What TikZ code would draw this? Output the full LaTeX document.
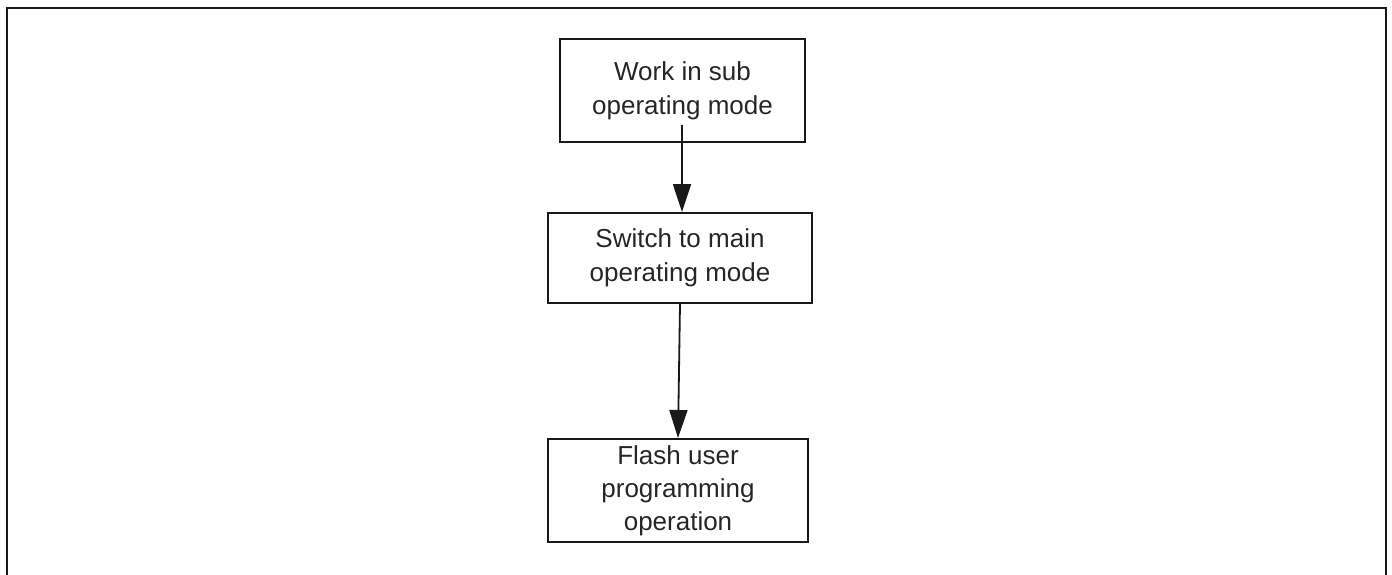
\documentclass[tikz,border=0pt]{standalone}
\usepackage{fontspec}
\setmainfont{Liberation Sans}
\usetikzlibrary{arrows.meta}
\begin{document}
\begin{tikzpicture}[x=1pt,y=-1pt,
  stepbox/.style={draw=black!90,line width=2pt,inner sep=0pt,align=center,
    font=\fontsize{26}{34}\selectfont,text=black!85},
  flow/.style={draw=black!90,line width=1.8pt,-{Triangle[length=28pt,width=18pt]}}]
\useasboundingbox (0,0) rectangle (1392,575);
\draw[line width=2.4pt,black!90] (7,575) -- (7,8) -- (1386,8) -- (1386,575);
\node[stepbox,minimum width=245pt,minimum height=103pt] (b1) at (682.5,90.5) {Work in sub\\operating mode};
\node[stepbox,minimum width=264pt,minimum height=90pt] (b2) at (680,258) {Switch to main\\operating mode};
\node[stepbox,minimum width=260pt,minimum height=103pt,font=\fontsize{26}{33}\selectfont] (b3) at (678,490.5) {Flash user\\programming\\operation};
\coordinate (a1s) at (682,125);
\draw[flow] (a1s) -- (b2.north -| a1s);
\draw[flow] (b2.south) -- (b3.north);
\end{tikzpicture}
\end{document}
